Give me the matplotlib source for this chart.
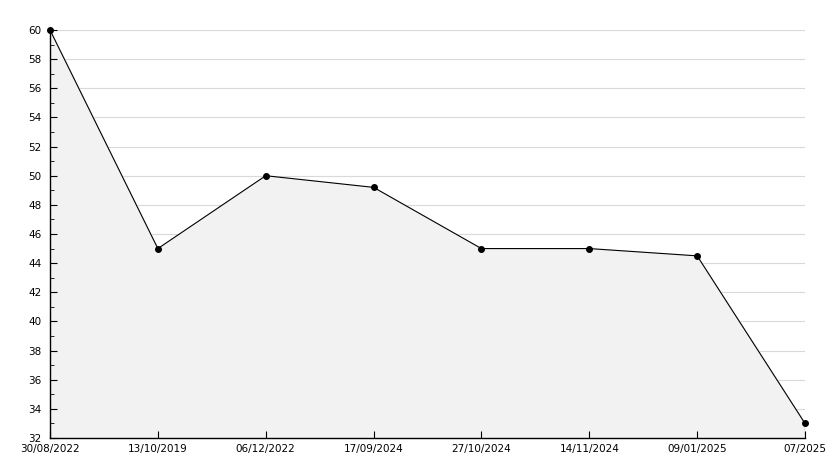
import matplotlib
matplotlib.use('Agg')
import matplotlib.pyplot as plt
import numpy as np
from matplotlib.ticker import MultipleLocator

# ===== data =====
date_labels = ['30/08/2022', '13/10/2019', '06/12/2022', '17/09/2024',
               '27/10/2024', '14/11/2024', '09/01/2025', '07/2025']
values = [60, 45, 50, 49.2, 45, 45, 44.5, 33]
y_min, y_max = 32, 60

plt.rcParams['font.family'] = 'DejaVu Sans'
plt.rcParams['font.size'] = 7.5

fig = plt.figure(figsize=(8.34, 4.68), dpi=100)
ax = fig.add_axes([50 / 834, 30 / 468, 755 / 834, 408 / 468])

x = np.arange(len(values))
ax.fill_between(x, values, y_min, color='#f2f2f2', zorder=1)
ax.plot(x, values, color='black', linewidth=0.8, marker='o',
        markersize=4, zorder=3, clip_on=False)
# closing edge of the area on the right side
ax.vlines(x[-1], y_min, values[-1], color='black', linewidth=0.8, zorder=3)

ax.set_xlim(0, len(values) - 1)
ax.set_ylim(y_min, y_max)
ax.set_xticks(x)
ax.set_xticklabels(date_labels)
ax.yaxis.set_major_locator(MultipleLocator(2))
ax.yaxis.set_minor_locator(MultipleLocator(1))

# grid lines sit under the filled area
for yv in ax.get_yticks():
    if y_min < yv <= y_max:
        ax.axhline(yv, color='#d9d9d9', linewidth=0.8, zorder=0.5)

for side in ['top', 'right']:
    ax.spines[side].set_visible(False)
for side in ['left', 'bottom']:
    ax.spines[side].set_linewidth(1.0)
    ax.spines[side].set_zorder(4)

ax.tick_params(axis='y', which='major', direction='in', length=5, pad=6)
ax.tick_params(axis='y', which='minor', direction='in', length=3)
ax.tick_params(axis='x', which='major', direction='in', length=5, pad=4)

# lift the lowest y label a little, as in the original
ax.get_yticklabels()[0].set_va('bottom')

fig.savefig('out.png', dpi=100, facecolor='white')
